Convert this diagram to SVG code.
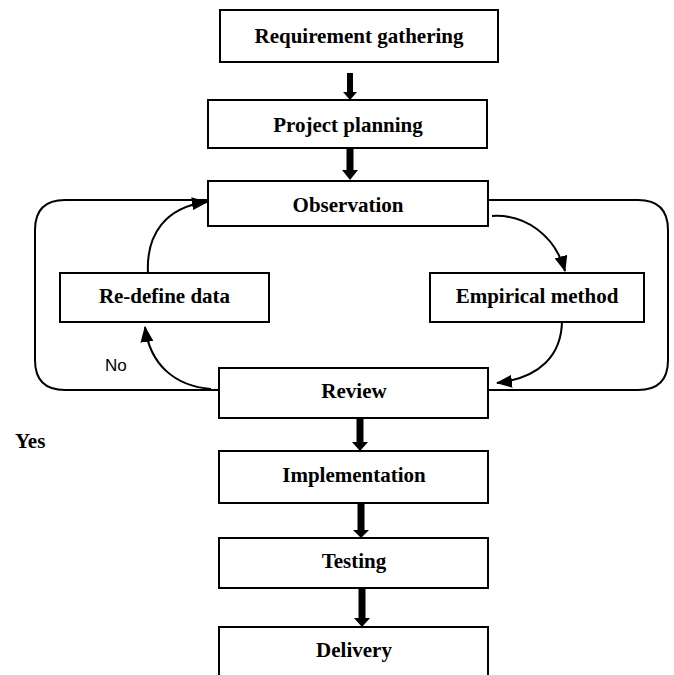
<svg xmlns="http://www.w3.org/2000/svg" width="674" height="675" viewBox="0 0 674 675">
<style>
.box{fill:#fff;stroke:#000;stroke-width:2}
.t{font-family:"Liberation Serif","Times New Roman",serif;font-weight:bold;font-size:21px;fill:#000;text-anchor:middle}
.ln{fill:none;stroke:#000;stroke-width:2}
.thick{fill:#000}
</style>
<defs>
<marker id="ah" viewBox="0 0 16 13" refX="15" refY="6.5" markerWidth="16" markerHeight="13" markerUnits="userSpaceOnUse" orient="auto">
<path d="M0,0 L16,6.5 L0,13 Z" fill="#000"/>
</marker>
</defs>
<rect width="674" height="675" fill="#fff"/>
<g id="connectors">
<path class="ln" d="M208,200 H65 Q35,200 35,230 V360 Q35,390 65,390 H219"/>
<path class="ln" d="M488,200 H638 Q668,200 668,230 V360 Q668,390 638,390 H488"/>
<path class="ln" marker-end="url(#ah)" d="M492,216 C525,214 555,235 565,271"/>
<path class="ln" marker-end="url(#ah)" d="M562,320 C562,355 540,378 497,383"/>
<path class="ln" marker-end="url(#ah)" d="M148,273 C146,235 165,207 207,202"/>
<path class="ln" marker-end="url(#ah)" d="M211,389 C175,386 150,365 145,327"/>
<path class="thick" d="M347,73 H353 V92 H357 L350,100 L343,92 H347 Z"/>
<path class="thick" d="M346.5,148 H353.5 V170 H358 L350,180 L342,170 H346.5 Z"/>
<path class="thick" d="M356.5,418 H363.5 V442 H368 L360,451 L352,442 H356.5 Z"/>
<path class="thick" d="M357.5,504 H364.5 V530 H369 L361,538 L353,530 H357.5 Z"/>
<path class="thick" d="M358.5,588 H365.5 V618 H370 L362,627 L354,618 H358.5 Z"/>
<text x="105" y="371" font-family="Liberation Sans, Arial, sans-serif" font-size="17" fill="#000">No</text>
<text x="15" y="448" class="t" style="text-anchor:start">Yes</text>
</g>
<g id="requirement"><rect class="box" x="220" y="10" width="278" height="52"/><text class="t" x="359" y="43">Requirement gathering</text></g>
<g id="planning"><rect class="box" x="208" y="100" width="279" height="48"/><text class="t" x="348" y="132">Project planning</text></g>
<g id="observation"><rect class="box" x="208" y="181" width="280" height="45"/><text class="t" x="348" y="212">Observation</text></g>
<g id="redefine"><rect class="box" x="60" y="273" width="209" height="49"/><text class="t" x="164.5" y="303">Re-define data</text></g>
<g id="empirical"><rect class="box" x="430" y="273" width="214" height="49"/><text class="t" x="537" y="303">Empirical method</text></g>
<g id="review"><rect class="box" x="219" y="368" width="269" height="50"/><text class="t" x="354" y="398">Review</text></g>
<g id="implementation"><rect class="box" x="219" y="451" width="269" height="52"/><text class="t" x="354" y="482">Implementation</text></g>
<g id="testing"><rect class="box" x="219" y="538" width="269" height="50"/><text class="t" x="354" y="568">Testing</text></g>
<g id="delivery"><rect class="box" x="219" y="627" width="269" height="60"/><text class="t" x="354" y="657">Delivery</text></g>
</svg>
